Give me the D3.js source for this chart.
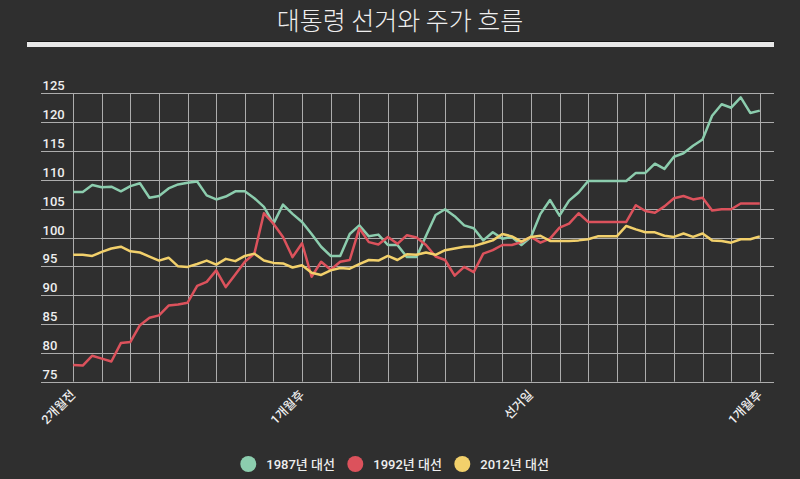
<!DOCTYPE html>
<html>
<head>
<meta charset="utf-8">
<script src="https://cdn.jsdelivr.net/npm/d3@7"></script>
<style>
  html, body { margin: 0; padding: 0; background: #2f2f2f; }
  svg { display: block; }
</style>
</head>
<body>
<svg id="chart" width="800" height="479"></svg>
<script>
const title = "대통령 선거와 주가 흐름";
const seriesNames = ["1987년 대선", "1992년 대선", "2012년 대선"];
const seriesColors = ["#8ccdae", "#dc525c", "#f2d06b"];
const xTickLabels = ["2개월전", "1개월후", "선거일", "1개월후"];
const xTickIndex = [0, 24, 48, 72];
const yTicks = [75, 80, 85, 90, 95, 100, 105, 110, 115, 120, 125];

const s1987 = [107.9,107.9,109.1,108.7,108.8,108.0,108.9,109.4,106.9,107.2,108.5,109.2,109.5,109.7,107.3,106.6,107.1,108.0,108.0,106.8,105.3,102.4,105.7,104.1,102.7,100.6,98.4,96.8,96.8,100.6,102.1,100.2,100.5,98.7,98.7,96.6,96.6,100.3,103.9,104.9,103.7,102.1,101.6,99.5,100.9,99.8,100.1,98.7,100.1,104.1,106.5,103.8,106.4,107.8,109.8,109.8,109.8,109.8,109.8,111.2,111.2,112.8,111.9,114.0,114.6,115.9,117.0,121.1,123.1,122.5,124.3,121.6,122.0];
const s1992 = [77.9,77.8,79.5,79.0,78.5,81.7,81.9,84.8,86.1,86.5,88.2,88.4,88.7,91.6,92.3,94.3,91.4,93.6,95.8,97.2,104.2,102.4,100.1,96.6,99.0,93.2,95.8,94.4,95.8,96.1,101.6,99.2,98.8,100.1,98.9,100.4,100.0,98.7,96.7,96.1,93.4,94.9,94.0,97.2,97.8,98.7,98.7,99.2,100.1,99.1,99.8,101.7,102.4,104.2,102.7,102.7,102.7,102.7,102.7,105.6,104.6,104.3,105.4,106.8,107.2,106.6,106.9,104.7,104.9,104.9,105.9,105.9,105.9];
const s2012 = [97.0,97.0,96.8,97.5,98.1,98.4,97.6,97.4,96.7,96.0,96.5,95.0,94.9,95.4,96.0,95.3,96.3,95.9,96.8,97.2,96.0,95.6,95.5,94.8,95.2,93.9,93.5,94.3,94.7,94.6,95.4,96.1,96.0,96.8,96.1,97.1,97.0,97.4,97.0,97.8,98.1,98.4,98.5,99.0,99.5,100.6,100.2,99.3,100.1,100.3,99.4,99.4,99.4,99.5,99.7,100.2,100.2,100.2,102.0,101.4,100.9,100.9,100.3,100.1,100.7,100.1,100.7,99.5,99.4,99.1,99.7,99.7,100.2];
const allSeries = [s1987, s1992, s2012];

const svg = d3.select("#chart");
const FONT = "Roboto, 'Noto Sans CJK KR', sans-serif";

// Title
svg.append("text")
  .attr("x", 400).attr("y", 30)
  .attr("text-anchor", "middle")
  .attr("fill", "#eeeeee")
  .style("font-family", "'Noto Sans CJK KR', sans-serif")
  .style("font-weight", 300)
  .style("font-size", "25px")
  .text(title);

// Title underline bar
svg.append("rect").attr("x", 27).attr("y", 41).attr("width", 747).attr("height", 1).attr("fill", "#161616");
svg.append("rect").attr("x", 27).attr("y", 42).attr("width", 747).attr("height", 5).attr("fill", "#e8e8e8");

const x = d3.scaleLinear().domain([0, 72]).range([73.2, 759.8]);
const y = d3.scaleLinear().domain([75, 125]).range([381.7, 93.3]);

const grid = svg.append("g");
// horizontal grid
grid.selectAll("line.h").data(yTicks).join("line")
  .attr("x1", 41).attr("x2", 774)
  .attr("y1", d => Math.round(y(d)) + 0.5).attr("y2", d => Math.round(y(d)) + 0.5)
  .attr("stroke", "#adadad").attr("stroke-width", 1);
// vertical grid
grid.selectAll("line.v").data(d3.range(0, 73, 3)).join("line")
  .attr("x1", d => Math.round(x(d)) + 0.5).attr("x2", d => Math.round(x(d)) + 0.5)
  .attr("y1", y(125)).attr("y2", y(75))
  .attr("stroke", "#adadad").attr("stroke-width", 1);

// y labels
svg.append("g").selectAll("text").data(yTicks).join("text")
  .attr("x", 42.5).attr("y", d => y(d) - 3)
  .attr("fill", "#eeeeee")
  .style("font-family", FONT).style("font-weight", 500).style("font-size", "13px")
  .text(d => d);

// x labels
svg.append("g").selectAll("text").data(xTickIndex).join("text")
  .attr("transform", (d) => `translate(${x(d) + 3},${y(75) + 14}) rotate(-45)`)
  .attr("text-anchor", "end")
  .attr("fill", "#eeeeee")
  .style("font-family", FONT).style("font-weight", 500).style("font-size", "12.5px")
  .text((d, i) => xTickLabels[i]);

// lines
const line = d3.line().x((d, i) => x(i)).y(d => y(d));
svg.append("g").selectAll("path").data(allSeries).join("path")
  .attr("d", d => line(d))
  .attr("fill", "none")
  .attr("stroke", (d, i) => seriesColors[i])
  .attr("stroke-width", 2.5)
  .attr("stroke-linejoin", "round");

// legend
const legendX = [248.3, 355.3, 462.3];
const lg = svg.append("g").selectAll("g").data(seriesNames).join("g")
  .attr("transform", (d, i) => `translate(${legendX[i]},464)`);
lg.append("circle").attr("r", 8).attr("fill", (d, i) => seriesColors[i]);
lg.append("text").attr("x", 18).attr("y", 4.5)
  .attr("fill", "#eeeeee")
  .style("font-family", FONT).style("font-weight", 500).style("font-size", "13px")
  .text(d => d);
</script>
</body>
</html>
